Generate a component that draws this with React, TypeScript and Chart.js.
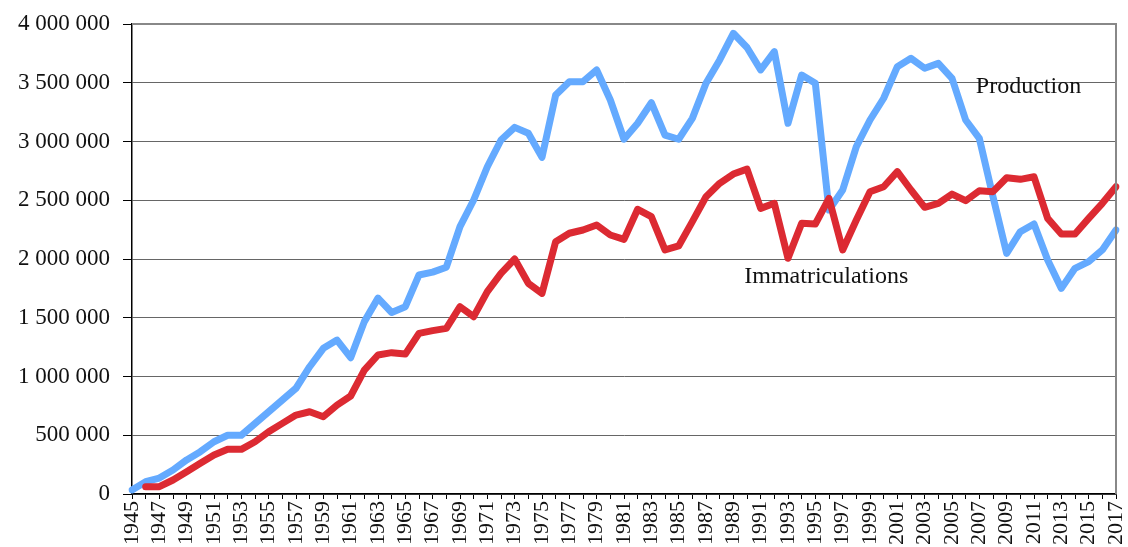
import React, { useEffect, useRef } from "react";
import { Chart, registerables } from "chart.js";

Chart.register(...registerables);

const years: string[] = [
  "1945","1946","1947","1948","1949","1950","1951","1952","1953","1954",
  "1955","1956","1957","1958","1959","1960","1961","1962","1963","1964",
  "1965","1966","1967","1968","1969","1970","1971","1972","1973","1974",
  "1975","1976","1977","1978","1979","1980","1981","1982","1983","1984",
  "1985","1986","1987","1988","1989","1990","1991","1992","1993","1994",
  "1995","1996","1997","1998","1999","2000","2001","2002","2003","2004",
  "2005","2006","2007","2008","2009","2010","2011","2012","2013","2014",
  "2015","2016","2017",
];

const production: number[] = [
  35000, 105000, 136000, 204000, 290000, 360000, 445000, 500000, 500000, 600000,
  700000, 800000, 900000, 1083000, 1240000, 1310000, 1160000, 1467000, 1667000, 1545000,
  1594000, 1864000, 1888000, 1930000, 2275000, 2502000, 2785000, 3013000, 3120000, 3070000,
  2865000, 3396000, 3509000, 3509000, 3609000, 3353000, 3019000, 3155000, 3330000, 3055000,
  3019000, 3197000, 3495000, 3694000, 3921000, 3800000, 3609000, 3765000, 3155000, 3566000,
  3495000, 2417000, 2587000, 2956000, 3183000, 3368000, 3637000, 3708000, 3623000, 3665000,
  3538000, 3183000, 3027000, 2530000, 2048000, 2232000, 2298000, 1991000, 1750000, 1921000,
  1977000, 2077000, 2247000,
];

const immatriculations: (number | null)[] = [
  null, 62000, 62000, 119000, 190000, 261000, 332000, 380000, 380000, 445000,
  530000, 601000, 672000, 700000, 658000, 757000, 834000, 1055000, 1183000, 1203000,
  1191000, 1367000, 1390000, 1410000, 1594000, 1509000, 1722000, 1878000, 2000000, 1793000,
  1708000, 2147000, 2219000, 2247000, 2289000, 2204000, 2167000, 2423000, 2360000, 2077000,
  2111000, 2318000, 2530000, 2644000, 2723000, 2765000, 2431000, 2474000, 2006000, 2304000,
  2298000, 2516000, 2077000, 2332000, 2573000, 2615000, 2743000, 2587000, 2440000, 2474000,
  2553000, 2496000, 2581000, 2573000, 2692000, 2678000, 2700000, 2346000, 2213000, 2213000,
  2346000, 2474000, 2615000,
];

const seriesNames = ["Immatriculations", "Production"];

const formatNumber = (v: number) =>
  Math.round(v).toString().replace(/\B(?=(\d{3})+(?!\d))/g, " ");

const SERIF = "'Liberation Serif', 'Times New Roman', serif";

const labelPlugin = {
  id: "seriesLabels",
  afterDatasetsDraw(chart: any) {
    const { ctx, scales } = chart;
    const items = [
      { text: seriesNames[1], x: 65.6, y: 3470000 },
      { text: seriesNames[0], x: 50.8, y: 1847000 },
    ];
    ctx.save();
    ctx.font = `24px ${SERIF}`;
    ctx.fillStyle = "#111";
    ctx.textAlign = "center";
    ctx.textBaseline = "middle";
    for (const it of items) {
      ctx.fillText(it.text, scales.x.getPixelForValue(it.x), scales.y.getPixelForValue(it.y));
    }
    ctx.restore();
  },
};

const borderPlugin = {
  id: "plotBorder",
  afterDraw(chart: any) {
    const { ctx, chartArea } = chart;
    ctx.save();
    ctx.strokeStyle = "#888";
    ctx.lineWidth = 2;
    ctx.beginPath();
    ctx.moveTo(chartArea.left, chartArea.top);
    ctx.lineTo(chartArea.right, chartArea.top);
    ctx.lineTo(chartArea.right, chartArea.bottom);
    ctx.stroke();
    ctx.restore();
  },
};

export default function App() {
  const ref = useRef<HTMLCanvasElement | null>(null);

  useEffect(() => {
    document.body.style.margin = "0";
    const canvas = ref.current;
    if (!canvas) return;
    const chart = new Chart(canvas, {
      type: "line",
      data: {
        labels: years,
        datasets: [
          {
            label: seriesNames[0],
            data: immatriculations,
            borderColor: "#DC2A32",
            backgroundColor: "#DC2A32",
            borderWidth: 7,
            pointRadius: 0,
            tension: 0,
            borderCapStyle: "round",
            borderJoinStyle: "round",
            spanGaps: false,
          },
          {
            label: seriesNames[1],
            data: production,
            borderColor: "#64AAFF",
            backgroundColor: "#64AAFF",
            borderWidth: 7,
            pointRadius: 0,
            tension: 0,
            borderCapStyle: "round",
            borderJoinStyle: "round",
          },
        ],
      },
      options: {
        responsive: false,
        animation: false,
        devicePixelRatio: 1,
        layout: { padding: { top: 24, right: 12, left: 0, bottom: 0 } },
        plugins: {
          legend: { display: false },
          tooltip: { enabled: false },
          title: { display: false },
        },
        scales: {
          x: {
            type: "category",
            offset: false,
            afterFit: (scale: any) => {
              scale.height = 53;
              scale.paddingLeft = 0;
              scale.paddingRight = 0;
            },
            border: { display: true, color: "#000", width: 1.5 },
            grid: {
              display: true,
              drawOnChartArea: false,
              drawTicks: true,
              tickLength: 5,
              tickColor: "#000",
              tickWidth: 1,
            },
            ticks: {
              autoSkip: false,
              maxRotation: 90,
              minRotation: 90,
              padding: 2,
              color: "#111",
              font: { family: SERIF, size: 22 },
              callback: (_v: any, i: number) => (i % 2 === 0 ? years[i] : ""),
            },
          },
          y: {
            min: 0,
            max: 4000000,
            afterFit: (scale: any) => {
              scale.width = 132;
              scale.paddingTop = 0;
              scale.paddingBottom = 0;
            },
            border: { display: true, color: "#000", width: 1.5 },
            grid: {
              color: "#666",
              lineWidth: 1,
              drawTicks: true,
              tickLength: 9,
              tickColor: "#000",
            },
            ticks: {
              stepSize: 500000,
              padding: 13,
              color: "#111",
              font: { family: SERIF, size: 23 },
              callback: (v: any) => formatNumber(Number(v)),
            },
          },
        },
      },
      plugins: [labelPlugin, borderPlugin],
    } as any);
    return () => chart.destroy();
  }, []);

  return (
    <div style={{ position: "absolute", left: 0, top: 0, width: 1128, height: 547, background: "#fff" }}>
      <canvas ref={ref} width={1128} height={547} style={{ display: "block", width: 1128, height: 547 }} />
    </div>
  );
}
